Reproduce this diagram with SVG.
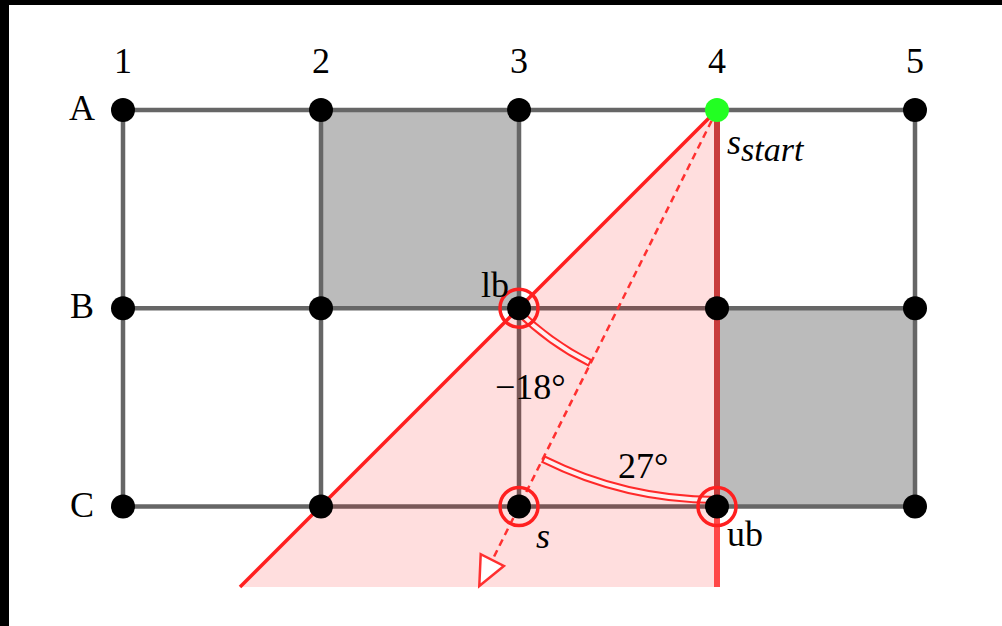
<svg xmlns="http://www.w3.org/2000/svg" width="1002" height="626" viewBox="0 0 1002 626">
<style>
.lbl{font-family:"Liberation Serif","Times New Roman",serif;font-size:36px;fill:#000}
.it{font-style:italic}
.grid{stroke:#666;stroke-width:4.5;fill:none;stroke-linecap:square}
.dot{fill:#000}
.ring{fill:none;stroke:#ff2020;stroke-width:3.5}
.dbl-o{fill:none;stroke:#ff2a2a;stroke-width:8}
.dbl-i{fill:none;stroke:#fff0f0;stroke-width:4}
</style>
<rect x="0" y="0" width="1002" height="626" fill="#fff"/>
<rect x="0" y="0" width="9" height="626" fill="#000"/>
<rect x="0" y="0" width="1002" height="5" fill="#000"/>
<g id="cells">
<rect x="321" y="110" width="198" height="198.25" fill="#bbb"/>
<rect x="717" y="308.25" width="198" height="198.25" fill="#bbb"/>
</g>
<g id="grid" class="grid">
<line x1="123" y1="110" x2="915" y2="110"/>
<line x1="123" y1="308.25" x2="915" y2="308.25"/>
<line x1="123" y1="506.5" x2="915" y2="506.5"/>
<line x1="123" y1="110" x2="123" y2="506.5"/>
<line x1="321" y1="110" x2="321" y2="506.5"/>
<line x1="519" y1="110" x2="519" y2="506.5"/>
<line x1="717" y1="110" x2="717" y2="506.5"/>
<line x1="915" y1="110" x2="915" y2="506.5"/>
</g>
<g id="cone">
<polygon points="717,110 240,587 720,587 720,110" fill="#ff0000" fill-opacity="0.13"/>
</g>
<g id="connectors">
<line x1="717" y1="110" x2="717" y2="506.5" stroke="#c83c3c" stroke-width="6"/>
<line x1="717" y1="506.5" x2="717" y2="587" stroke="#ff4848" stroke-width="6"/>
<line x1="717" y1="110" x2="240" y2="587" stroke="#ff2020" stroke-width="3.5"/>
<line x1="717" y1="110" x2="492.3" y2="560.06" stroke="#ff3030" stroke-width="2.5" stroke-dasharray="7 5"/>
<polygon points="479.3,586 503.9,565.9 480.7,554.2" fill="#fff" stroke="#ff3030" stroke-width="2.5" stroke-linejoin="miter"/>
<path class="dbl-o" d="M516.89,310.11 A283,283 0 0 0 590.57,363.18"/>
<path class="dbl-i" d="M516.89,310.11 A283,283 0 0 0 588.81,362.30"/>
<path class="dbl-o" d="M542.77,458.91 A390,390 0 0 0 717,500"/>
<path class="dbl-i" d="M544.51,459.78 A390,390 0 0 0 715.03,499.99"/>
</g>
<g id="nodes">
<circle class="dot" cx="123" cy="110" r="12"/>
<circle class="dot" cx="321" cy="110" r="12"/>
<circle class="dot" cx="519" cy="110" r="12"/>
<circle class="dot" cx="915" cy="110" r="12"/>
<circle class="dot" cx="123" cy="308.25" r="12"/>
<circle class="dot" cx="321" cy="308.25" r="12"/>
<circle class="dot" cx="519" cy="308.25" r="12"/>
<circle class="dot" cx="717" cy="308.25" r="12"/>
<circle class="dot" cx="915" cy="308.25" r="12"/>
<circle class="dot" cx="123" cy="506.5" r="12"/>
<circle class="dot" cx="321" cy="506.5" r="12"/>
<circle class="dot" cx="519" cy="506.5" r="12"/>
<circle class="dot" cx="717" cy="506.5" r="12"/>
<circle class="dot" cx="915" cy="506.5" r="12"/>
</g>
<g id="node-start">
<circle cx="717" cy="110" r="12" fill="#22ff22"/>
<text class="lbl it" x="727" y="154">s<tspan font-size="34" y="161">start</tspan></text>
</g>
<g id="node-lb">
<circle class="ring" cx="519" cy="308.25" r="19"/>
<text class="lbl" x="509" y="297" text-anchor="end">lb</text>
</g>
<g id="node-s">
<circle class="ring" cx="519" cy="506.5" r="19"/>
<text class="lbl it" x="536" y="548">s</text>
</g>
<g id="node-ub">
<circle class="ring" cx="717" cy="506.5" r="19"/>
<text class="lbl" x="727" y="546">ub</text>
</g>
<g id="labels">
<text class="lbl" x="123" y="73" text-anchor="middle">1</text>
<text class="lbl" x="321" y="73" text-anchor="middle">2</text>
<text class="lbl" x="519" y="73" text-anchor="middle">3</text>
<text class="lbl" x="717" y="73" text-anchor="middle">4</text>
<text class="lbl" x="915" y="73" text-anchor="middle">5</text>
<text class="lbl" x="82" y="120" text-anchor="middle">A</text>
<text class="lbl" x="82" y="318" text-anchor="middle">B</text>
<text class="lbl" x="82" y="517" text-anchor="middle">C</text>
<text class="lbl" x="495" y="399">−18°</text>
<text class="lbl" x="618" y="478">27°</text>
</g>
</svg>
